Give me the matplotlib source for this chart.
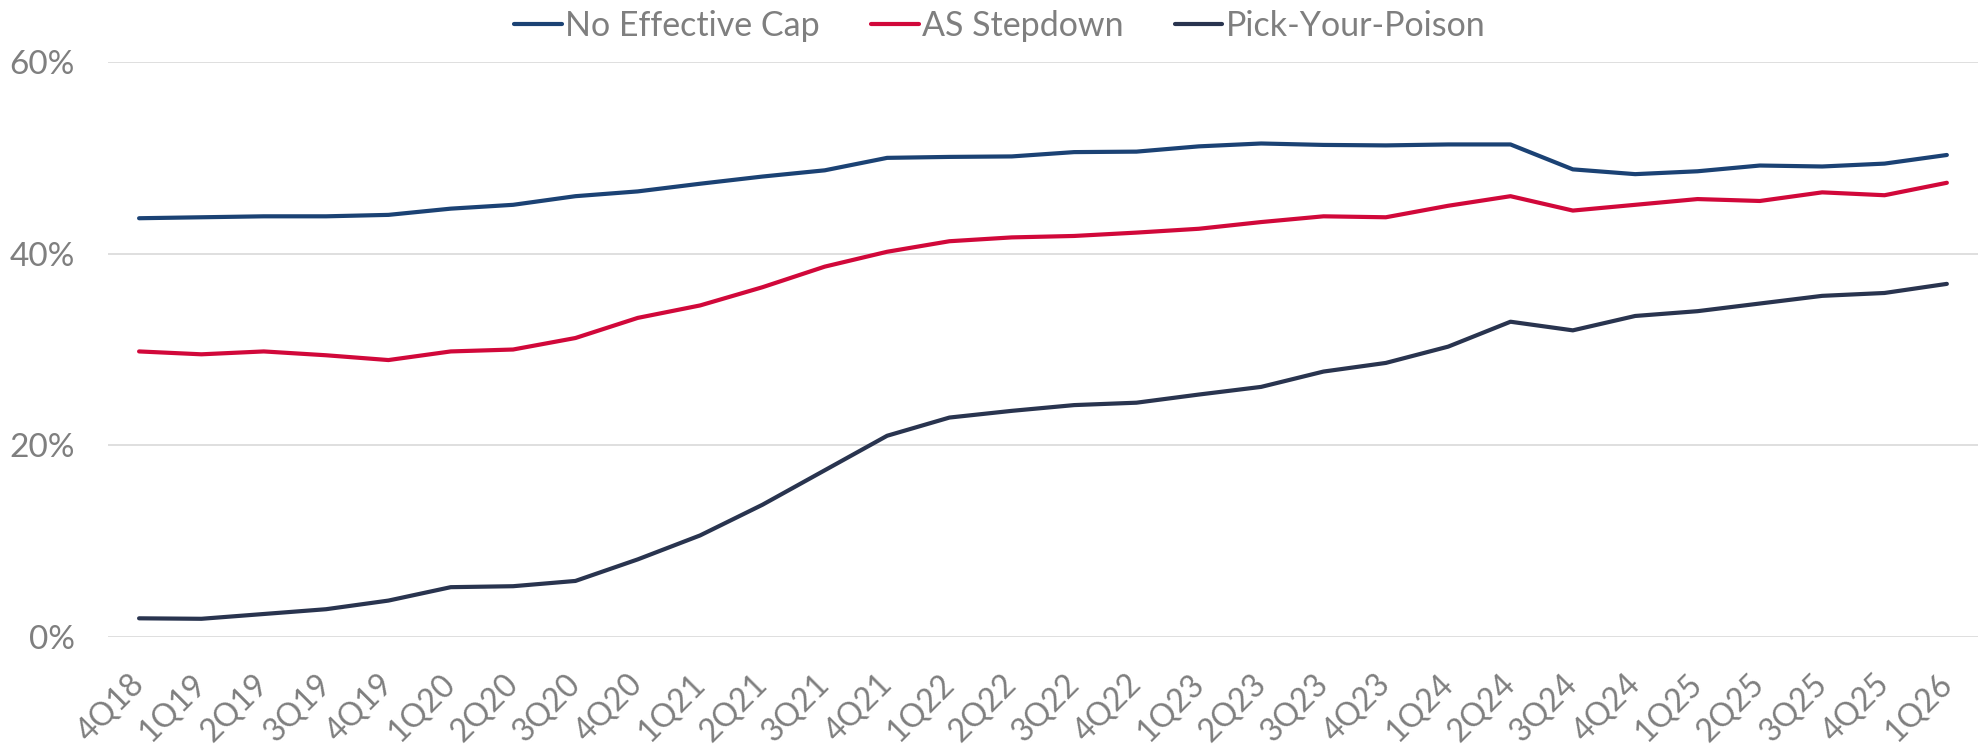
import matplotlib
matplotlib.use("Agg")
import matplotlib.pyplot as plt
from matplotlib.ticker import PercentFormatter, MultipleLocator

quarters = ["4Q18",
            "1Q19", "2Q19", "3Q19", "4Q19",
            "1Q20", "2Q20", "3Q20", "4Q20",
            "1Q21", "2Q21", "3Q21", "4Q21",
            "1Q22", "2Q22", "3Q22", "4Q22",
            "1Q23", "2Q23", "3Q23", "4Q23",
            "1Q24", "2Q24", "3Q24", "4Q24",
            "1Q25", "2Q25", "3Q25", "4Q25",
            "1Q26"]

no_effective_cap = [43.7, 43.8, 43.9, 43.9, 44.05, 44.7, 45.1, 46.0, 46.5, 47.3,
                    48.05, 48.7, 50.0, 50.1, 50.15, 50.6, 50.65, 51.2, 51.5, 51.35,
                    51.3, 51.4, 51.4, 48.8, 48.3, 48.6, 49.2, 49.1, 49.4, 50.3]
as_stepdown = [29.8, 29.5, 29.8, 29.4, 28.9, 29.8, 30.0, 31.2, 33.3, 34.6,
               36.5, 38.65, 40.2, 41.3, 41.7, 41.85, 42.2, 42.6, 43.3, 43.9,
               43.8, 45.0, 46.0, 44.5, 45.1, 45.7, 45.5, 46.4, 46.1, 47.4]
pick_your_poison = [1.95, 1.9, 2.4, 2.9, 3.8, 5.2, 5.3, 5.85, 8.1, 10.6,
                    13.8, 17.4, 21.0, 22.9, 23.6, 24.2, 24.45, 25.3, 26.1, 27.7,
                    28.6, 30.3, 32.9, 32.0, 33.5, 34.0, 34.8, 35.6, 35.9, 36.85]

series = [("No Effective Cap", no_effective_cap, "#1b4274"),
          ("AS Stepdown", as_stepdown, "#d1083a"),
          ("Pick-Your-Poison", pick_your_poison, "#29344f")]

plt.rcParams["font.family"] = ["Lato", "DejaVu Sans"]
grey = "#7f7f7f"

fig = plt.figure(figsize=(19.8, 7.51), dpi=100)
ax = fig.add_axes([0.0545, 0.1518, 0.9445, 0.7656])

x = list(range(len(quarters)))
for name, vals, colour in series:
    ax.plot(x, vals, color=colour, linewidth=3, label=name,
            solid_capstyle="round", solid_joinstyle="round")

ax.set_xlim(-0.5, len(quarters) - 0.5)
ax.set_ylim(0, 60)
ax.yaxis.set_major_locator(MultipleLocator(20))
ax.yaxis.set_major_formatter(PercentFormatter(decimals=0))
ax.grid(axis="y", color="#dcdcdc", linewidth=1.3)
ax.set_axisbelow(True)
for s in ax.spines.values():
    s.set_visible(False)

ax.set_xticks(x)
ax.set_xticklabels(quarters, rotation=45, ha="right", va="center",
                   rotation_mode="anchor")
ax.tick_params(axis="x", length=0, pad=30, labelsize=23, labelcolor=grey)
ax.tick_params(axis="y", length=0, pad=24, labelsize=24, labelcolor=grey)

fig.legend(loc="upper center", bbox_to_anchor=(0.505, 1.028), ncol=3,
           frameon=False, fontsize=24.5, labelcolor=grey,
           handlelength=1.4, handletextpad=0.1, columnspacing=1.5)

fig.savefig("out.png", dpi=100)
